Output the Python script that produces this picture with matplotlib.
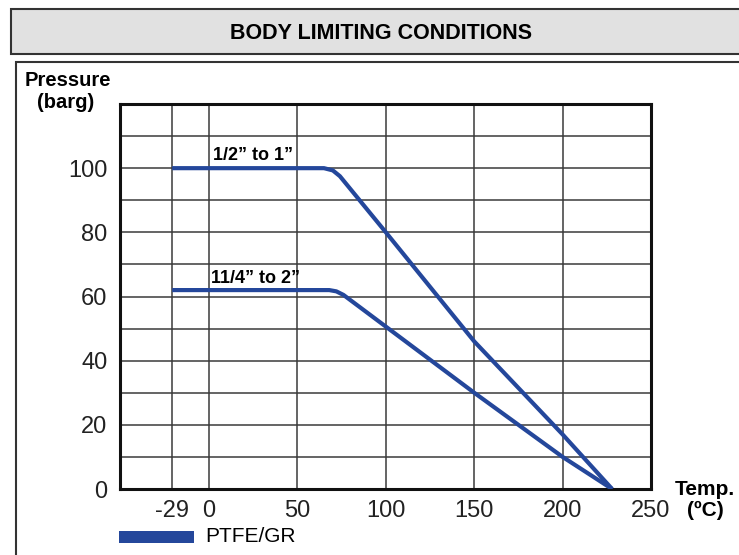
import numpy as np
import matplotlib
matplotlib.use("Agg")
import matplotlib.pyplot as plt
from matplotlib.patches import Rectangle

plt.rcParams["font.family"] = ["Liberation Sans", "DejaVu Sans"]

# data
temp_small = [-29, 65, 70, 74, 100, 150, 200, 228]
press_small = [100, 100, 99.3, 97.5, 80, 46, 17, 0]
temp_large = [-29, 68, 72, 76, 150, 200, 228]
press_large = [62, 62, 61.6, 60.5, 30, 10, 0]
x_ticks = [-29, 0, 50, 100, 150, 200, 250]
y_ticks = [0, 20, 40, 60, 80, 100]
legend_label = "PTFE/GR"
blue = "#24479b"

NEG = 0.72  # the chart squeezes the sub-zero part of the temperature axis


def fwd(x):
    x = np.asarray(x, dtype=float)
    return np.where(x < 0, x * NEG, x)


def inv(x):
    x = np.asarray(x, dtype=float)
    return np.where(x < 0, x / NEG, x)


W, H = 739, 555
fig = plt.figure(figsize=(W / 100, H / 100), dpi=100)


def fx(px):
    return px / W


def fy(py):
    return 1 - py / H


# header box and chart box
fig.patches.append(Rectangle((fx(11), fy(54)), 1.2, 45 / H, transform=fig.transFigure,
                             facecolor="#e1e1e1", edgecolor="#333333", lw=1.5, zorder=-2))
fig.patches.append(Rectangle((fx(15.5), -0.2), 1.2, fy(62) + 0.2, transform=fig.transFigure,
                             facecolor="white", edgecolor="#333333", lw=1.5, zorder=-2))
fig.text(fx(381), fy(33.5), "BODY LIMITING CONDITIONS", ha="center", va="center",
         fontsize=15.5, fontweight="bold")

ax = fig.add_axes([fx(120), fy(489), 531 / W, 385 / H])
ax.set_zorder(1)
ax.set_xscale("function", functions=(fwd, inv))
ax.set_xlim(-70, 250)
ax.set_ylim(0, 120)

ax.plot(temp_small, press_small, color=blue, lw=3, solid_capstyle="butt", zorder=3)
ax.plot(temp_large, press_large, color=blue, lw=3, solid_capstyle="butt", zorder=3)

ax.set_xticks(x_ticks)
ax.set_xticklabels([str(t) for t in x_ticks])
ax.set_yticks(y_ticks)
ax.set_yticks(np.arange(10, 120, 10), minor=True)
ax.tick_params(axis="both", which="both", length=0, labelsize=17, colors="#222222")
ax.tick_params(axis="x", pad=8)
ax.tick_params(axis="y", pad=9)
for t in x_ticks[:-1]:
    ax.axvline(t, color="#3a3a3a", lw=1.1, zorder=1)
for v in range(10, 120, 10):
    ax.axhline(v, color="#3a3a3a", lw=1.1, zorder=1)
for s in ax.spines.values():
    s.set_linewidth(2.2)
    s.set_color("#111111")

ax.text(25, 103.8, "1/2\u201d to 1\u201d", ha="center", va="center",
        fontsize=13, fontweight="bold")
ax.text(26, 65.6, "11/4\u201d to 2\u201d", ha="center", va="center",
        fontsize=13, fontweight="bold")

fig.text(fx(68), fy(80), "Pressure", ha="center", va="center", fontsize=14.5, fontweight="bold")
fig.text(fx(66), fy(103), "(barg)", ha="center", va="center", fontsize=14.5, fontweight="bold")
fig.text(fx(705), fy(500), "Temp.\n(\u00baC)", ha="center", va="center", fontsize=15,
         fontweight="bold", linespacing=1.15)

# legend swatch
fig.patches.append(Rectangle((fx(119), fy(543)), 75 / W, 12 / H, transform=fig.transFigure,
                             facecolor=blue, edgecolor="none"))
fig.text(fx(205), fy(537), legend_label, ha="left", va="center", fontsize=15)

fig.savefig("out.png", dpi=100)
